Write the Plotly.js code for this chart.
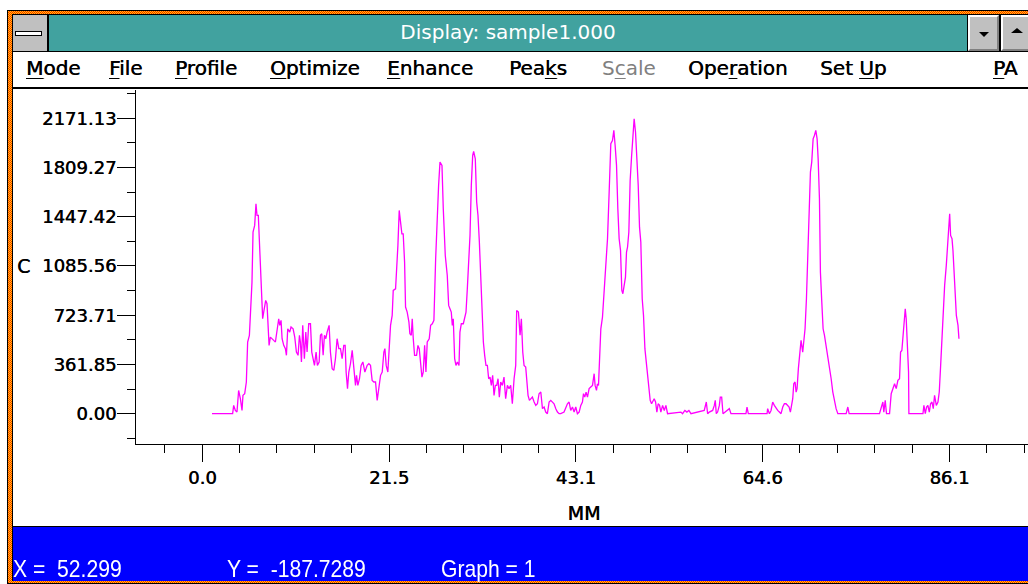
<!DOCTYPE html>
<html><head><meta charset="utf-8">
<script src="https://cdn.plot.ly/plotly-3.0.1.min.js"></script>
<style>
html,body{margin:0;padding:0;}
body{width:1028px;height:584px;overflow:hidden;position:relative;background:#fff;font-family:'DejaVu Sans',sans-serif;}
.abs{position:absolute;}
.dither{background-color:#f07830;background-image:repeating-conic-gradient(#ff2000 0 25%, #ffd400 0 50%);background-size:2px 2px;}
.menu{position:absolute;top:58px;font-size:20px;line-height:20px;color:#000;white-space:pre;text-shadow:0.4px 0 0 currentColor;}
.menu u{text-decoration:underline;text-decoration-thickness:1px;text-underline-offset:3px;}
.btn{position:absolute;background:#c0c0c0;border-top:2px solid #fff;border-left:2px solid #fff;border-bottom:2px solid #808080;border-right:2px solid #808080;box-sizing:border-box;}
.status{position:absolute;top:557px;font-family:'Liberation Sans',Arial,sans-serif;font-size:24px;line-height:24px;color:#fff;white-space:pre;transform:scaleX(0.88);transform-origin:0 0;}
</style></head>
<body>
<!-- window frame -->
<div class="abs" style="left:7px;top:10px;width:1030px;height:574px;background:#000;"></div>
<div class="abs dither" style="left:8px;top:11px;width:1030px;height:572px;"></div>
<div class="abs" style="left:12px;top:14px;width:1030px;height:567px;background:#000;"></div>
<!-- title bar -->
<div class="abs" style="left:13px;top:15px;width:34px;height:36px;background:#c0c0c0;"></div>
<div class="abs" style="left:15px;top:31px;width:25px;height:3px;background:#fff;border:1px solid #000;"></div>
<div class="abs" style="left:49px;top:15px;width:918px;height:36px;background:#41a29f;"></div>
<div class="abs" style="left:49px;top:22px;width:918px;text-align:center;font-size:20px;line-height:20px;color:#fff;">Display: sample1.000</div>
<div class="btn" style="left:968px;top:15px;width:31px;height:36px;"></div>
<div class="abs" style="left:979px;top:32px;width:0;height:0;border-left:5px solid transparent;border-right:5px solid transparent;border-top:5px solid #000;"></div>
<div class="btn" style="left:1001px;top:15px;width:40px;height:36px;"></div>
<div class="abs" style="left:1011px;top:28px;width:0;height:0;border-left:6px solid transparent;border-right:6px solid transparent;border-bottom:5px solid #000;"></div>
<!-- menu bar -->
<div class="abs" style="left:13px;top:52px;width:1030px;height:35px;background:#fff;"></div>
<div class="menu" style="left:26px;"><u>M</u>ode</div>
<div class="menu" style="left:109px;"><u>F</u>ile</div>
<div class="menu" style="left:175px;"><u>P</u>rofile</div>
<div class="menu" style="left:270px;"><u>O</u>ptimize</div>
<div class="menu" style="left:387px;"><u>E</u>nhance</div>
<div class="menu" style="left:509px;">Pea<u>k</u>s</div>
<div class="menu" style="left:602px;color:#808080;text-shadow:none;">S<u>c</u>ale</div>
<div class="menu" style="left:688px;">Ope<u>r</u>ation</div>
<div class="menu" style="left:820px;">Set <u>U</u>p</div>
<div class="menu" style="left:993px;"><u>P</u>A</div>
<!-- client -->
<div class="abs" style="left:13px;top:89px;width:1030px;height:437px;background:#fff;"></div>
<!-- status bar -->
<div class="abs" style="left:13px;top:527px;width:1030px;height:54px;background:#0000ff;"></div>
<div class="status" style="left:13px;">X =  52.299</div>
<div class="status" style="left:227px;">Y =  -187.7289</div>
<div class="status" style="left:441px;">Graph = 1</div>

<div id="plot" class="abs" style="left:0;top:0;width:1060px;height:584px;"></div>
<script>
const positionMM = [1.12,3.50,3.62,3.81,4.00,4.19,4.39,4.58,4.69,4.89,5.08,5.23,5.43,5.54,5.73,5.85,6.04,6.19,6.31,6.46,6.58,6.73,6.85,6.96,7.08,7.19,7.31,7.46,7.58,7.70,7.85,8.00,8.23,8.43,8.62,8.81,8.93,9.08,9.20,9.39,9.58,9.70,9.85,10.08,10.23,10.47,10.66,10.85,11.04,11.20,11.31,11.43,11.58,11.77,11.93,12.08,12.27,12.47,12.62,12.77,12.93,13.12,13.27,13.47,13.62,13.77,13.93,14.08,14.24,14.39,14.62,14.77,14.97,15.16,15.35,15.54,15.74,15.93,16.12,16.31,16.47,16.58,16.74,16.89,17.08,17.28,17.47,17.66,17.78,17.93,18.12,18.31,18.51,18.74,19.01,19.20,19.39,19.58,19.78,19.97,20.16,20.35,20.55,20.74,20.93,21.05,21.20,21.39,21.51,21.70,21.89,22.01,22.28,22.39,22.55,22.70,22.86,23.01,23.16,23.32,23.43,23.62,23.82,23.93,24.09,24.20,24.32,24.47,24.70,24.86,25.01,25.16,25.32,25.47,25.63,25.78,25.93,26.16,26.32,26.51,26.70,26.90,27.09,27.24,27.40,27.63,27.78,28.01,28.24,28.40,28.55,28.70,28.82,28.93,29.09,29.24,29.40,29.59,29.70,29.86,30.09,30.24,30.40,30.55,30.70,30.86,31.01,31.17,31.28,31.47,31.63,31.78,31.94,32.09,32.24,32.40,32.55,32.70,32.86,33.01,33.17,33.32,33.47,33.63,33.78,33.94,34.09,34.24,34.40,34.59,34.78,34.97,35.17,35.36,35.55,35.74,35.94,36.13,36.24,36.44,36.63,36.78,36.94,37.09,37.28,37.40,37.55,37.71,37.86,38.05,38.25,38.44,38.63,38.82,39.02,39.21,39.40,39.59,39.78,39.98,40.17,40.36,40.55,40.75,40.94,41.13,
41.32,41.70,42.09,42.28,42.47,42.67,42.86,43.05,43.24,43.44,43.63,43.82,43.94,44.09,44.24,44.40,44.59,44.78,44.98,45.17,45.28,45.44,45.55,45.67,45.78,45.94,46.13,46.32,46.51,46.71,46.90,47.09,47.28,47.44,47.59,47.75,47.90,48.05,48.21,48.36,48.48,48.63,48.78,48.90,49.02,49.17,49.32,49.48,49.63,49.78,49.94,50.09,50.25,50.40,50.55,50.71,50.86,51.02,51.17,51.32,51.48,51.63,51.79,51.94,52.09,52.25,52.40,52.55,52.71,52.86,53.06,53.25,53.44,53.63,55.17,55.36,55.63,55.86,56.09,56.33,57.86,58.10,58.25,58.44,58.83,59.02,59.13,59.25,59.40,59.60,59.71,59.87,60.02,60.75,60.94,62.67,62.79,62.94,65.10,65.17,65.37,65.56,65.75,65.94,66.14,66.33,66.52,66.71,66.91,67.10,67.29,67.48,67.64,67.79,67.95,68.06,68.18,68.33,68.45,68.56,68.71,68.87,69.02,69.21,69.33,69.48,69.64,69.79,69.95,70.10,70.25,70.41,70.56,70.72,70.87,70.99,71.14,71.25,71.41,71.56,71.72,71.91,72.10,72.29,72.49,72.68,72.87,73.06,73.26,74.22,74.41,74.56,78.06,78.45,78.56,78.72,78.87,79.22,79.41,79.60,79.80,79.99,80.18,80.37,80.49,80.64,80.76,80.87,81.03,81.14,81.26,81.41,81.45,83.07,83.18,83.34,83.49,83.64,83.80,83.95,84.11,84.26,84.41,84.61,84.80,84.95,85.11,85.26,85.41,85.57,85.76,85.88,86.03,86.15,86.26,86.42,86.53,86.65,86.80,86.92,87.11,87.22];
const counts = [0,0,61,24,12,171,110,24,135,147,233,527,576,722,967,1335,1384,1543,1457,1457,1273,1114,943,698,747,796,833,808,588,502,563,551,539,527,600,698,649,686,551,502,478,429,624,600,637,624,563,453,429,576,527,380,649,404,600,453,661,661,453,404,355,453,355,380,576,588,429,576,551,600,649,453,331,318,404,551,478,478,404,502,502,306,184,306,367,465,306,208,282,208,257,355,380,306,355,367,355,245,233,233,98,208,282,306,453,478,355,306,478,649,722,906,918,1041,1237,1494,1384,1322,1322,1114,784,747,673,588,576,698,551,429,429,502,478,380,269,306,502,306,527,551,649,661,686,1139,1494,1678,1849,1825,1506,1163,1016,796,771,747,649,698,404,355,380,355,600,661,661,698,747,918,1090,1310,1678,1898,1927,1873,1555,1457,1261,1004,796,527,429,355,355,257,269,208,282,135,208,208,257,122,233,208,269,110,208,184,208,73,257,355,759,747,576,698,453,355,343,233,135,98,110,122,86,61,73,147,159,37,49,12,0,86,98,86,73,37,12,0,
0,12,73,86,24,49,12,49,0,12,61,86,147,122,159,122,184,196,208,294,208,171,220,208,453,624,710,894,1114,1286,1629,1984,2008,2082,1971,1825,1506,1286,1200,906,882,931,1004,1188,1225,1335,1714,1886,2069,2167,2069,1886,1678,1371,1261,845,722,478,392,269,184,98,73,98,110,86,12,73,61,12,61,24,61,0,12,0,24,12,24,0,24,86,0,12,24,61,98,0,12,61,122,122,0,37,0,0,49,0,0,37,0,24,86,61,37,24,12,0,49,73,73,61,49,12,73,110,220,233,159,184,331,453,539,453,551,624,845,1139,1457,1776,1849,2020,2045,2082,2020,1873,1580,1041,820,624,576,502,404,331,257,159,86,37,0,0,49,0,0,86,12,98,0,0,147,184,220,184,245,257,453,465,551,649,771,698,551,306,0,0,61,0,49,61,12,73,86,37,135,61,86,159,355,551,722,943,1090,1212,1433,1469,1310,1286,1200,1016,845,722,649,551];

const xTickVals = [0, 21.53, 43.06, 64.59, 86.12];
const xTickText = ['0.0', '21.5', '43.1', '64.6', '86.1'];
const yTickVals = [0, 361.855, 723.71, 1085.565, 1447.42, 1809.275, 2171.13];
const yTickText = ['0.00', '361.85', '723.71', '1085.56', '1447.42', '1809.27', '2171.13'];
const xAxisTitle = 'MM';
const yAxisTitle = 'C';

const tickFont = {family: 'DejaVu Sans, sans-serif', size: 18, color: '#000', shadow: '0.5px 0 0 #000'};

const trace = {
  x: positionMM, y: counts, type: 'scatter', mode: 'lines',
  line: {color: '#ff00ff', width: 1.3}, hoverinfo: 'skip'
};

const layout = {
  width: 1060, height: 584,
  margin: {l: 136, r: 28, t: 90, b: 140, pad: 0},
  paper_bgcolor: 'rgba(0,0,0,0)', plot_bgcolor: 'rgba(0,0,0,0)',
  showlegend: false,
  xaxis: {
    range: [-7.64, 95.64], showgrid: false, zeroline: false,
    showline: true, linecolor: '#000', linewidth: 1,
    ticks: 'outside', ticklen: 17, tickwidth: 1, tickcolor: '#000',
    tickmode: 'array', tickvals: xTickVals, ticktext: xTickText,
    tickfont: tickFont, ticklabelstandoff: 0,
    minor: {tickmode: 'linear', tick0: 0, dtick: 4.306, ticks: 'outside', ticklen: 8, tickwidth: 1, tickcolor: '#000', showgrid: false},
    title: {text: xAxisTitle, font: {family: 'DejaVu Sans, sans-serif', size: 19, color: '#000', shadow: '0.4px 0 0 #000'}, standoff: 20},
    fixedrange: true
  },
  yaxis: {
    range: [-222.7, 2379], showgrid: false, zeroline: false,
    showline: true, linecolor: '#000', linewidth: 1,
    ticks: 'outside', ticklen: 18, tickwidth: 1, tickcolor: '#000',
    tickmode: 'array', tickvals: yTickVals, ticktext: yTickText,
    tickfont: tickFont, ticklabelstandoff: -3,
    minor: {tickmode: 'linear', tick0: 180.9275, dtick: 361.855, ticks: 'outside', ticklen: 8, tickwidth: 1, tickcolor: '#000', showgrid: false},
    fixedrange: true
  },
  annotations: [{
    text: yAxisTitle, xref: 'paper', yref: 'y', x: -0.1355, y: 1085.565,
    xanchor: 'left', yanchor: 'middle', showarrow: false,
    font: {family: 'DejaVu Sans, sans-serif', size: 19, color: '#000', shadow: '0.4px 0 0 #000'}
  }]
};

Plotly.newPlot('plot', [trace], layout, {staticPlot: true, displayModeBar: false});
</script>
</body></html>
